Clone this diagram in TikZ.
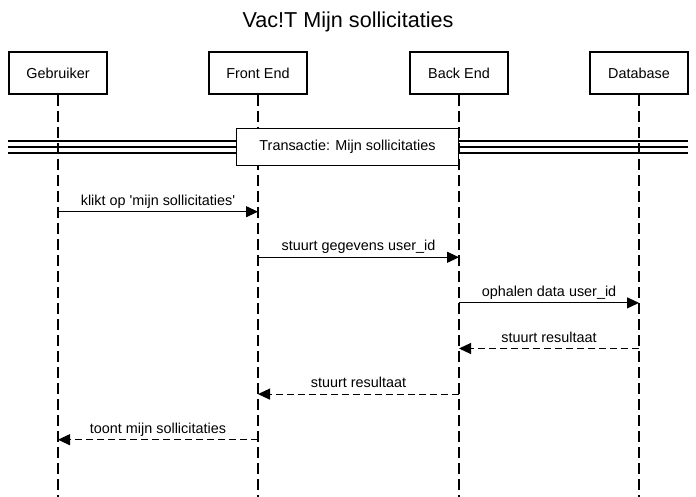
\documentclass[tikz,border=0pt]{standalone}
\usepackage{fontspec}
\setmainfont{Liberation Sans}[Ligatures=TeXOff]
\usetikzlibrary{arrows.meta}

\begin{document}
\begin{tikzpicture}[x=1pt, y=-1pt, every node/.style={font=\fontsize{14.4}{17}\selectfont}, actor/.style={draw, fill=white, line width=2pt, minimum width=98pt, minimum height=42pt, inner sep=0pt}, lifeline/.style={line width=1.2pt, dash pattern=on 11pt off 5pt}, msg/.style={line width=1.1pt, -{Triangle[length=12pt,width=11pt]}}, reply/.style={msg, dash pattern=on 7pt off 4pt}, msglabel/.style={anchor=base, yshift=6.5pt, inner sep=0pt}]
\useasboundingbox (0,0) rectangle (696,497);
\node[anchor=base, font=\fontsize{21.6}{26}\selectfont] (title) at (348,28) {Vac!T Mijn sollicitaties};
\node[actor] (gebr) at (58,73) {Gebruiker};
\node[actor] (front) at (258,73) {Front End};
\node[actor] (back) at (459,73) {Back End};
\node[actor] (db) at (639,73) {Database};
\coordinate (gebr-end) at (58,497);
\coordinate (front-end) at (258,497);
\coordinate (back-end) at (459,497);
\coordinate (db-end) at (639,497);
\draw[lifeline] (gebr) -- (gebr-end);
\draw[lifeline] (front) -- (front-end);
\draw[lifeline] (back) -- (back-end);
\draw[lifeline] (db) -- (db-end);
% divider
\coordinate (div-l) at (8,147);
\coordinate (div-r) at (688,147);
\foreach \dy in {-6,0,6}
  \draw[line width=1.1pt] ([yshift=\dy pt]div-l) -- ([yshift=\dy pt]div-r);
\node[draw, fill=white, line width=1.1pt, minimum width=222pt, minimum height=37pt, inner sep=0pt] (trans) at (347.5,147) {Transactie: Mijn sollicitaties};
% messages
\draw[msg] (gebr |- 0,211.7) -- node[msglabel] {klikt op 'mijn sollicitaties'} (front |- 0,211.7);
\draw[msg] (front |- 0,257.3) -- node[msglabel] {stuurt gegevens user\_id} (back |- 0,257.3);
\draw[msg] (back |- 0,302.9) -- node[msglabel] {ophalen data user\_id} (db |- 0,302.9);
\draw[reply] (db |- 0,348.5) -- node[msglabel] {stuurt resultaat} (back |- 0,348.5);
\draw[reply] (back |- 0,394.1) -- node[msglabel] {stuurt resultaat} (front |- 0,394.1);
\draw[reply] (front |- 0,439.7) -- node[msglabel] {toont mijn sollicitaties} (gebr |- 0,439.7);
\end{tikzpicture}
\end{document}
